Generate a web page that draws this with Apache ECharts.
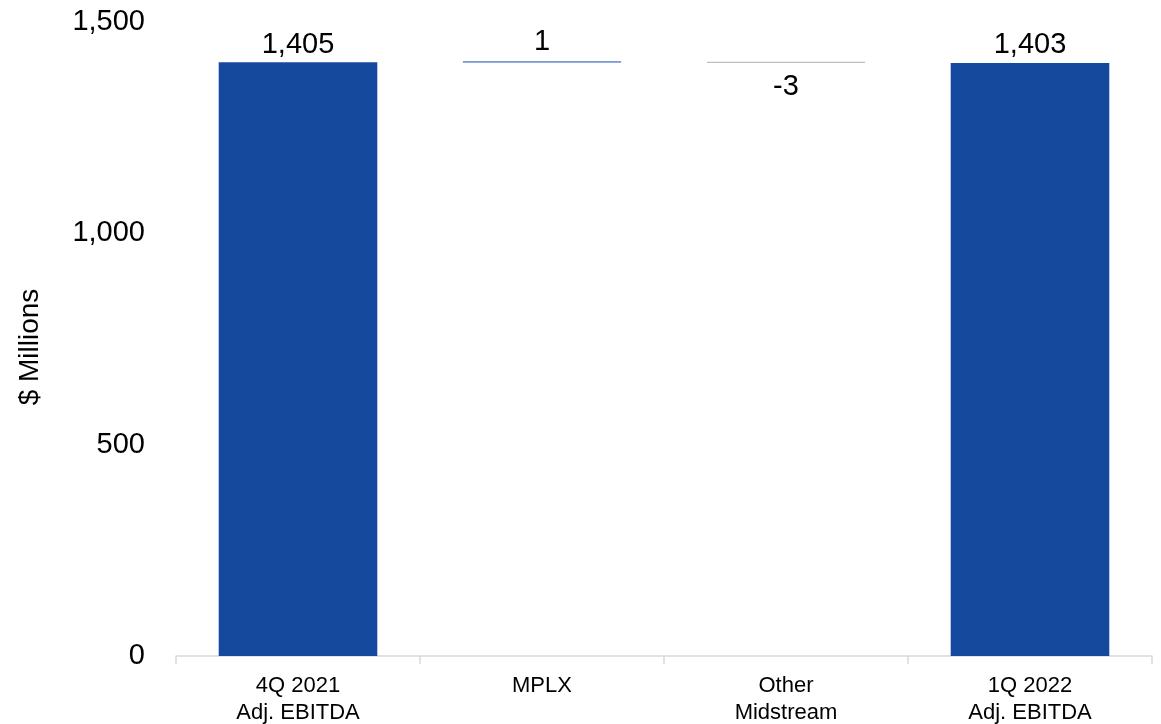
<!DOCTYPE html>
<html>
<head>
<meta charset="utf-8">
<script src="https://cdn.jsdelivr.net/npm/echarts@6/dist/echarts.min.js"></script>
<style>html,body{margin:0;padding:0;background:#fff}#c{width:1161px;height:724px}</style>
</head>
<body>
<div id="c"></div>
<script>
var categories = ['4Q 2021\nAdj. EBITDA', 'MPLX', 'Other\nMidstream', '1Q 2022\nAdj. EBITDA'];
var values = [1405, 1, -3, 1403];
var isTotal = [true, false, false, true];
var colors = ['#15499E', '#4472C4', '#BFBFBF', '#15499E'];
var yTicks = [0, 500, 1000, 1500];

var base = [], height = [], running = 0;
for (var i = 0; i < values.length; i++) {
  if (isTotal[i]) { base.push(0); height.push(values[i]); running = values[i]; }
  else {
    var next = running + values[i];
    base.push(Math.min(running, next));
    height.push(Math.abs(values[i]));
    running = next;
  }
}

function fmt(v) { return v.toLocaleString('en-US'); }
var FONT = 'Liberation Sans, Arial, sans-serif';

var chart = echarts.init(document.getElementById('c'));
chart.setOption({
  animation: false,
  grid: { left: 176, right: 9, top: 22, bottom: 68, outerBoundsMode: 'none', containLabel: false },
  xAxis: {
    type: 'category',
    data: categories,
    axisLine: { lineStyle: { color: '#D9D9D9', width: 1.5 } },
    axisTick: { show: true, length: 8, lineStyle: { color: '#D9D9D9', width: 1.5 } },
    axisLabel: { color: '#000', fontSize: 22, lineHeight: 27, margin: 16, fontFamily: FONT }
  },
  yAxis: {
    type: 'value',
    min: yTicks[0], max: yTicks[yTicks.length - 1], interval: 500,
    name: '$ Millions', nameLocation: 'middle', nameGap: 132, nameRotate: 90,
    nameTextStyle: { color: '#000', fontSize: 28, fontFamily: FONT, padding: [0, 16, 0, 0] },
    axisLine: { show: false }, axisTick: { show: false },
    splitLine: { show: false },
    axisLabel: { color: '#000', fontSize: 29, margin: 31, fontFamily: FONT, formatter: function (v) { return fmt(v); } }
  },
  series: [
    {
      type: 'bar', stack: 'w', data: base, barWidth: '65%',
      itemStyle: { color: 'transparent' }, silent: true
    },
    {
      type: 'bar', stack: 'w', barWidth: '65%',
      data: height.map(function (h, i) {
        return {
          value: h,
          itemStyle: isTotal[i] ? { color: colors[i] } : { color: colors[i], borderColor: colors[i], borderWidth: i === 2 ? 1 : 0.8 },
          label: {
            show: true,
            position: values[i] < 0 ? 'bottom' : 'top',
            distance: values[i] < 0 ? 10 : (isTotal[i] ? 3 : 5),
            formatter: fmt(values[i]),
            color: '#000', fontSize: 29, fontFamily: FONT
          }
        };
      })
    }
  ]
});
</script>
</body>
</html>
